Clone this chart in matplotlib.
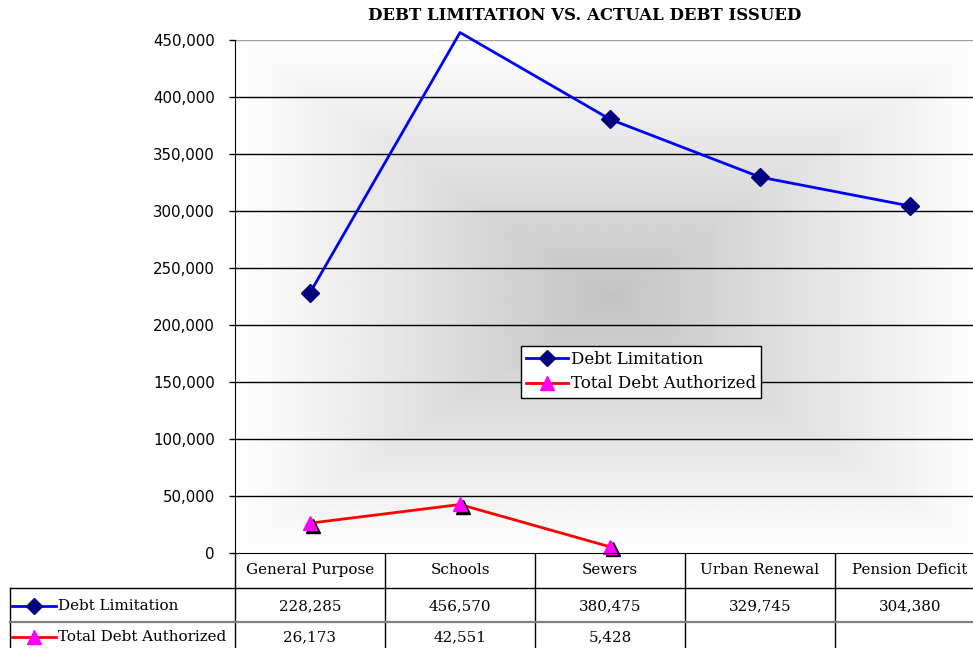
import numpy as np
import matplotlib.pyplot as plt
from matplotlib.lines import Line2D
from matplotlib.transforms import offset_copy

# data
categories = ["General Purpose", "Schools", "Sewers", "Urban Renewal", "Pension Deficit"]
debt_limitation = [228285, 456570, 380475, 329745, 304380]
debt_authorized = [26173, 42551, 5428, np.nan, np.nan]
series_names = ["Debt Limitation", "Total Debt Authorized"]
y_ticks = [0, 50000, 100000, 150000, 200000, 250000, 300000, 350000, 400000, 450000]
title = "DEBT LIMITATION VS. ACTUAL DEBT ISSUED"

W, H = 973, 648
fig = plt.figure(figsize=(W / 100, H / 100), dpi=100)
ax = fig.add_axes([235 / W, 95 / H, 738 / W, 513 / H])
x = np.arange(len(categories))
ymax = y_ticks[-1]
ax.set_xlim(-0.5, 4.42)
ax.set_ylim(0, ymax)

# centre gradient of the plot area (rectangular rings, grey -> white)
gx, gy = np.meshgrid(np.linspace(-1, 1, 500), np.linspace(-1, 1, 400))
ring = np.maximum(np.abs(gx), np.abs(gy))
shade = 0.765 + (1 - 0.765) * ring
ax.imshow(shade, cmap="gray", vmin=0, vmax=1, extent=(-0.5, len(categories) - 0.5, 0, ymax),
          aspect="auto", zorder=0, interpolation="bilinear")

for yv in y_ticks[1:]:
    ax.axhline(yv, color="#a0a0a0" if yv == ymax else "black", lw=1, zorder=1)

# series
blue_mark = [i for i, v in enumerate(debt_limitation) if v <= ymax]
ax.plot(x, debt_limitation, color="#0000ff", lw=2, zorder=3, clip_on=False)
ax.plot(x, debt_limitation, ls="none", marker="D", ms=9.5, mfc="#000080", mec="#000080",
        markevery=blue_mark, zorder=4, clip_on=False)

ax.plot(x, debt_authorized, color="#ff0000", lw=2, zorder=3, clip_on=False)
shadow = offset_copy(ax.transData, fig=fig, x=2.5, y=-2.5, units="dots")
ax.plot(x, debt_authorized, ls="none", marker="^", ms=10.5, mfc="black", mec="black",
        transform=shadow, zorder=4, clip_on=False)
ax.plot(x, debt_authorized, ls="none", marker="^", ms=10.5, mfc="#ff00ff", mec="#ff00ff",
        zorder=5, clip_on=False)

# axes styling
for s in ["top", "right"]:
    ax.spines[s].set_visible(False)
ax.spines["left"].set_color("black")
ax.spines["bottom"].set_color("black")
ax.spines["left"].set_zorder(6)
ax.spines["bottom"].set_zorder(6)
ax.set_xticks([])
ax.set_yticks(y_ticks)
ax.set_yticklabels([f"{v:,}" for v in y_ticks], fontsize=10.8, family="DejaVu Sans")
ax.tick_params(axis="y", direction="out", length=4.5, width=1, pad=10)

fig.text(585 / W, 1 - 16 / H, title, ha="center", va="center", fontsize=11.9,
         fontweight="bold", family="DejaVu Serif")

# legend
handles = [
    Line2D([], [], color="#0000ff", lw=2, marker="D", ms=8, mfc="#000080", mec="#000080"),
    Line2D([], [], color="#ff0000", lw=2, marker="^", ms=10, mfc="#ff00ff", mec="#ff00ff"),
]
leg = ax.legend(handles, series_names, loc="upper left", bbox_to_anchor=(521 / W, 1 - 346 / H),
                bbox_transform=fig.transFigure, fancybox=False, framealpha=1, edgecolor="black",
                prop={"family": "DejaVu Serif", "size": 12}, handlelength=2.5,
                handletextpad=0.2, labelspacing=0.45, borderpad=0.3, borderaxespad=0)
leg.get_frame().set_linewidth(1)
leg.set_zorder(10)

# data table below the axis
tax = fig.add_axes([0, 0, 1, 95 / H])
tax.set_xlim(-0.5 - 235 / 150, 4.42)
tax.set_ylim(95, 0)
tax.axis("off")

lab_left = -2.0
for xv in np.arange(-0.5, len(categories) - 0.5, 1.0):
    tax.plot([xv, xv], [0, 95], color="black", lw=1)
tax.plot([lab_left, lab_left], [35, 95], color="black", lw=1)
tax.plot([lab_left, 4.42], [35, 35], color="black", lw=1)
tax.plot([lab_left, 4.42], [69, 69], color="#808080", lw=1.6)

tfont = {"family": "DejaVu Serif", "size": 10.9}
for i, c in enumerate(categories):
    tax.text(i, 17, c, ha="center", va="center", **tfont)
    tax.text(i, 53, f"{debt_limitation[i]:,}", ha="center", va="center", **tfont)
    if not np.isnan(debt_authorized[i]):
        tax.text(i, 84, f"{int(debt_authorized[i]):,}", ha="center", va="center", **tfont)

row_y = [53, 84]
keys = [("#0000ff", "D", "#000080", 8), ("#ff0000", "^", "#ff00ff", 10)]
for ry, name, (lc, mk, mc, ms) in zip(row_y, series_names, keys):
    tax.plot([-1.987, -1.693], [ry, ry], color=lc, lw=2)
    tax.plot([-1.84], [ry], marker=mk, ms=ms, mfc=mc, mec=mc)
    tax.text(-1.68, ry, name, ha="left", va="center", **tfont)

fig.savefig("out.png", dpi=100)
